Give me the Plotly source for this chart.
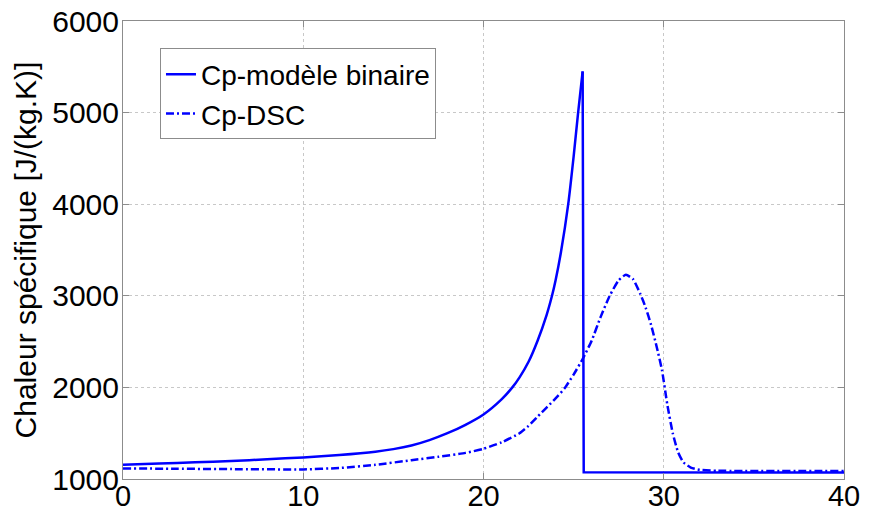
import plotly.graph_objects as go

# Température [°C] et chaleur spécifique du modèle binaire [J/(kg.K)]
t_binaire = [0, 2, 4, 6, 8, 10, 12, 14, 15, 16, 17, 18, 19, 20, 21, 21.6, 22,
             22.5, 23, 23.5, 23.8, 24, 24.3, 24.7, 25, 25.25, 25.5]
cp_binaire = [1155, 1168, 1182, 1197, 1215, 1236, 1262, 1298, 1326, 1366, 1425,
              1500, 1592, 1705, 1870, 2000, 2110, 2280, 2510, 2790, 3000, 3170,
              3480, 4000, 4520, 5000, 5450]

# Chute brutale après le pic puis palier du modèle binaire
t_palier = [25.5, 25.56, 40]
cp_palier = [5450, 1075, 1070]

# Mesure DSC
t_dsc = [0, 3, 6, 10, 12, 14, 16, 17.5, 19, 20, 21, 22, 22.5, 23, 23.5, 24,
         24.5, 25, 25.5, 26, 26.5, 27, 27.5, 27.9, 28.3, 28.7, 29, 29.3, 29.6,
         29.9, 30.2, 30.5, 30.8, 31.1, 31.5, 32, 33, 40]
cp_dsc = [1115, 1112, 1108, 1105, 1120, 1155, 1205, 1243, 1285, 1330, 1400,
          1500, 1580, 1680, 1780, 1880, 1990, 2140, 2310, 2510, 2770, 3000,
          3170, 3230, 3180, 3020, 2870, 2680, 2450, 2190, 1810, 1500, 1290,
          1180, 1125, 1100, 1090, 1088]

x_ticks = [0, 10, 20, 30, 40]
y_ticks = [1000, 2000, 3000, 4000, 5000, 6000]

BLUE = "#0000FF"
FONT = "Liberation Sans, Arial, sans-serif"

fig = go.Figure()
fig.add_trace(go.Scatter(
    x=t_binaire, y=cp_binaire, mode="lines", name="Cp-modèle binaire",
    legendgroup="binaire",
    line=dict(color=BLUE, width=2.5, shape="spline", smoothing=0.6),
))
fig.add_trace(go.Scatter(
    x=t_palier, y=cp_palier, mode="lines", name="Cp-modèle binaire",
    legendgroup="binaire", showlegend=False,
    line=dict(color=BLUE, width=2.5),
))
fig.add_trace(go.Scatter(
    x=t_dsc, y=cp_dsc, mode="lines", name="Cp-DSC",
    line=dict(color=BLUE, width=2.5, dash="8px,3px,2px,3px", shape="spline", smoothing=0.5),
))

axis_common = dict(
    showline=True, linecolor="#8c8c8c", linewidth=1, mirror="ticks",
    ticks="inside", ticklen=6, tickcolor="#8c8c8c",
    showgrid=True, gridcolor="#c8c8c8", griddash="dot", gridwidth=1,
    zeroline=False, automargin=False,
)

fig.update_xaxes(range=[0, 40], tickvals=x_ticks, ticklabelstandoff=-9,
                 tickfont=dict(family=FONT, size=29, color="black"), **axis_common)
fig.update_yaxes(
    range=[1000, 6000], tickvals=y_ticks, ticklabelstandoff=-3,
    tickfont=dict(family=FONT, size=30, color="black"),
    title=dict(text="Chaleur spécifique [J/(kg.K)]", standoff=6,
               font=dict(family=FONT, size=30, color="black")),
    **axis_common,
)

fig.update_layout(
    width=875, height=512,
    margin=dict(l=123, r=31, t=21, b=33),
    paper_bgcolor="white", plot_bgcolor="white",
    font=dict(family=FONT, color="black"),
    legend=dict(
        x=0.0513, y=0.94, xanchor="left", yanchor="top",
        bgcolor="white", bordercolor="#8c8c8c", borderwidth=1,
        font=dict(family=FONT, size=28, color="black"),
        tracegroupgap=0,
    ),
    showlegend=True,
)

fig.write_html("out.html")
